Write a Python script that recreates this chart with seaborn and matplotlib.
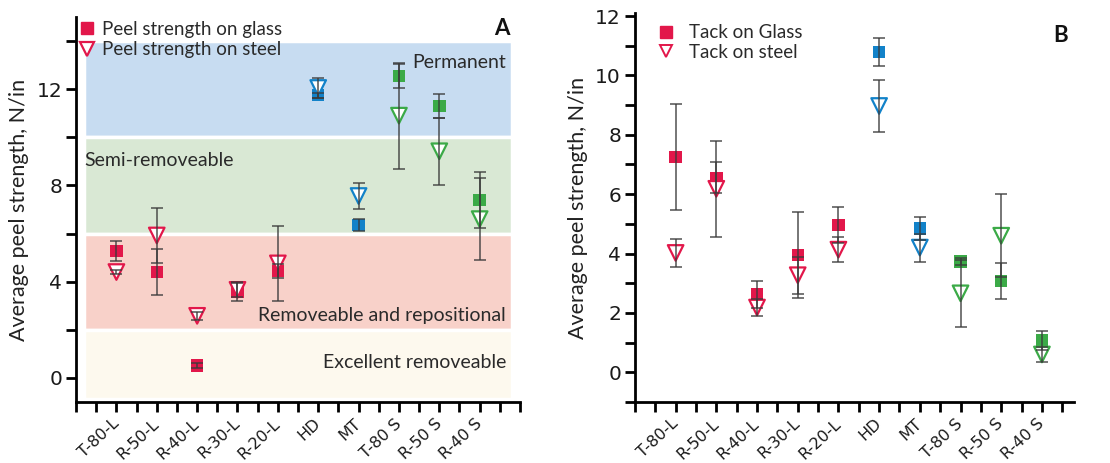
import numpy as np
import pandas as pd
import matplotlib
matplotlib.use("Agg")
import matplotlib.pyplot as plt
import matplotlib.transforms as mtransforms
import seaborn as sns
from matplotlib.lines import Line2D
from matplotlib.patches import Rectangle
from matplotlib.ticker import MultipleLocator

# ---------------- data ----------------
categories = ["T-80-L", "R-50-L", "R-40-L", "R-30-L", "R-20-L", "HD", "MT", "T-80 S", "R-50 S", "R-40 S"]
groups = ["L", "L", "L", "L", "L", "C", "C", "S", "S", "S"]

peel_glass = [5.27, 4.40, 0.51, 3.60, 4.45, 11.75, 6.35, 12.55, 11.30, 7.40]
peel_glass_err = [0.41, 0.95, 0.10, 0.40, 0.30, 0.10, 0.25, 0.50, 0.50, 1.15]
peel_steel = [4.40, 5.92, 2.58, 3.66, 4.76, 12.05, 7.56, 10.90, 9.42, 6.60]
peel_steel_err = [0.08, 1.15, 0.18, 0.30, 1.55, 0.42, 0.53, 2.20, 1.40, 1.70]

tack_glass = [7.25, 6.55, 2.62, 3.95, 4.97, 10.78, 4.85, 3.73, 3.08, 1.07]
tack_glass_err = [1.77, 0.52, 0.47, 1.45, 0.60, 0.48, 0.38, 0.13, 0.60, 0.32]
tack_steel = [4.02, 6.18, 2.18, 3.27, 4.13, 8.97, 4.20, 2.66, 4.60, 0.60]
tack_steel_err = [0.47, 1.62, 0.28, 0.62, 0.42, 0.88, 0.47, 1.12, 1.40, 0.25]

zone_names = ["Permanent", "Semi-removeable", "Removeable and repositional", "Excellent removeable"]
zone_low = [10, 6, 2, -0.88]
zone_high = [14, 10, 6, 2]

palette = {"L": "#E2174A", "C": "#1282C9", "S": "#3BAA47"}
zone_colors = ["#C7DCF1", "#D9E8D4", "#F8D1C9", "#FDF9EE"]

# ---------------- style ----------------
sns.set_theme(style="ticks")
plt.rcParams["font.family"] = ["Lato", "DejaVu Sans"]
plt.rcParams["axes.linewidth"] = 2.0
TICKFONT = "DejaVu Sans"

fig = plt.figure(figsize=(11.10, 4.63), dpi=100)
axA = fig.add_axes([0.0685, 0.1318, 0.400, 0.8315])
axB = fig.add_axes([0.572, 0.1318, 0.396, 0.840])

xpos = np.arange(1, len(categories) + 1)


def make_df(glass, gerr, steel, serr):
    return pd.DataFrame({
        "x": xpos, "cat": categories, "group": groups,
        "glass": glass, "gerr": gerr, "steel": steel, "serr": serr,
    })


def draw_panel(ax, df):
    sns.scatterplot(data=df, x="x", y="glass", hue="group", palette=palette,
                    marker="s", s=80, linewidth=0, legend=False, ax=ax, zorder=3)
    sns.scatterplot(data=df, x="x", y="steel", hue="group", palette=palette,
                    marker="v", s=125, linewidth=1.6, legend=False, ax=ax, zorder=4)
    coll = ax.collections[-1]
    fc = coll.get_facecolors()
    coll.set_edgecolors(fc)
    coll.set_facecolors("white")
    ax.errorbar(df["x"], df["glass"], yerr=df["gerr"], fmt="none", ecolor="#3a3a3a",
                elinewidth=1.3, capsize=4.5, capthick=1.3, alpha=0.75, zorder=5)
    ax.errorbar(df["x"], df["steel"], yerr=df["serr"], fmt="none", ecolor="#3a3a3a",
                elinewidth=1.3, capsize=4.5, capthick=1.3, alpha=0.75, zorder=5)


def style_axes(ax, xlim, ylim, yticks, minor):
    ax.set_xlim(*xlim)
    ax.set_ylim(*ylim)
    ax.set_xticks(xpos)
    ax.set_xticklabels(categories, rotation=43, ha="right", va="center",
                       rotation_mode="anchor", fontsize=11.5, family=TICKFONT, color="#1a1a1a")
    offset = mtransforms.ScaledTranslation(6 / 72, 0, fig.dpi_scale_trans)
    for lab in ax.get_xticklabels():
        lab.set_transform(lab.get_transform() + offset)
    ax.xaxis.set_minor_locator(MultipleLocator(0.5))
    ax.set_yticks(yticks)
    ax.set_yticklabels([str(v) for v in yticks], family=TICKFONT, fontsize=14.5, color="#1a1a1a")
    ax.yaxis.set_minor_locator(MultipleLocator(minor))
    ax.tick_params(axis="both", which="major", length=7, width=2, color="black",
                   pad=3, direction="out")
    ax.tick_params(axis="x", which="major", pad=7)
    ax.tick_params(axis="both", which="minor", length=7, width=2, color="black")
    for s in ["top", "right"]:
        ax.spines[s].set_visible(False)
    for s in ["left", "bottom"]:
        ax.spines[s].set_color("black")
    ax.set_xlabel("")
    ax.set_ylabel("Average peel strength, N/in", fontsize=15.5, color="#222222", labelpad=5)


# ---------------- panel A ----------------
dfA = make_df(peel_glass, peel_glass_err, peel_steel, peel_steel_err)
for lo, hi, c in zip(zone_low, zone_high, zone_colors):
    axA.add_patch(Rectangle((0.2, lo), 10.6, hi - lo, facecolor=c, edgecolor="white",
                            linewidth=2.5, zorder=0))
draw_panel(axA, dfA)
style_axes(axA, (0, 11), (-1, 15), [0, 4, 8, 12], 2)
axA.text(10.65, 13.1, zone_names[0], ha="right", va="center", fontsize=14, color="#2a2a2a")
axA.text(0.2, 9.05, zone_names[1], ha="left", va="center", fontsize=14, color="#2a2a2a")
axA.text(10.65, 2.6, zone_names[2], ha="right", va="center", fontsize=14, color="#2a2a2a")
axA.text(10.65, 0.65, zone_names[3], ha="right", va="center", fontsize=14, color="#2a2a2a")
axA.text(10.75, 14.95, "A", ha="right", va="top", fontsize=16, fontweight="bold", color="#111111")

hA = [Line2D([], [], marker="s", color="#E2174A", linestyle="none", markersize=8),
      Line2D([], [], marker="v", markerfacecolor="white", markeredgecolor="#E2174A",
             markeredgewidth=1.6, linestyle="none", markersize=10)]
axA.legend(hA, ["Peel strength on glass", "Peel strength on steel"], loc="upper left",
           bbox_to_anchor=(-0.035, 1.02), frameon=False, fontsize=13.5, handletextpad=0.0,
           labelspacing=0.2, borderaxespad=0.2, handlelength=1.6, labelcolor="#2a2a2a")

# ---------------- panel B ----------------
dfB = make_df(tack_glass, tack_glass_err, tack_steel, tack_steel_err)
draw_panel(axB, dfB)
style_axes(axB, (0, 10.8), (-1, 12.1), [0, 2, 4, 6, 8, 10, 12], 1)
axB.text(0.985, 0.97, "B", transform=axB.transAxes, ha="right", va="top",
         fontsize=16, fontweight="bold", color="#111111")
hB = [Line2D([], [], marker="s", color="#E2174A", linestyle="none", markersize=8),
      Line2D([], [], marker="v", markerfacecolor="white", markeredgecolor="#E2174A",
             markeredgewidth=1.4, linestyle="none", markersize=9)]
axB.legend(hB, ["Tack on Glass", "Tack on steel"], loc="upper left",
           bbox_to_anchor=(0.01, 1.015), frameon=False, fontsize=13.5, handletextpad=0.75,
           labelspacing=0.15, handlelength=1.0, labelcolor="#2a2a2a")

fig.savefig("out.png", dpi=100)
